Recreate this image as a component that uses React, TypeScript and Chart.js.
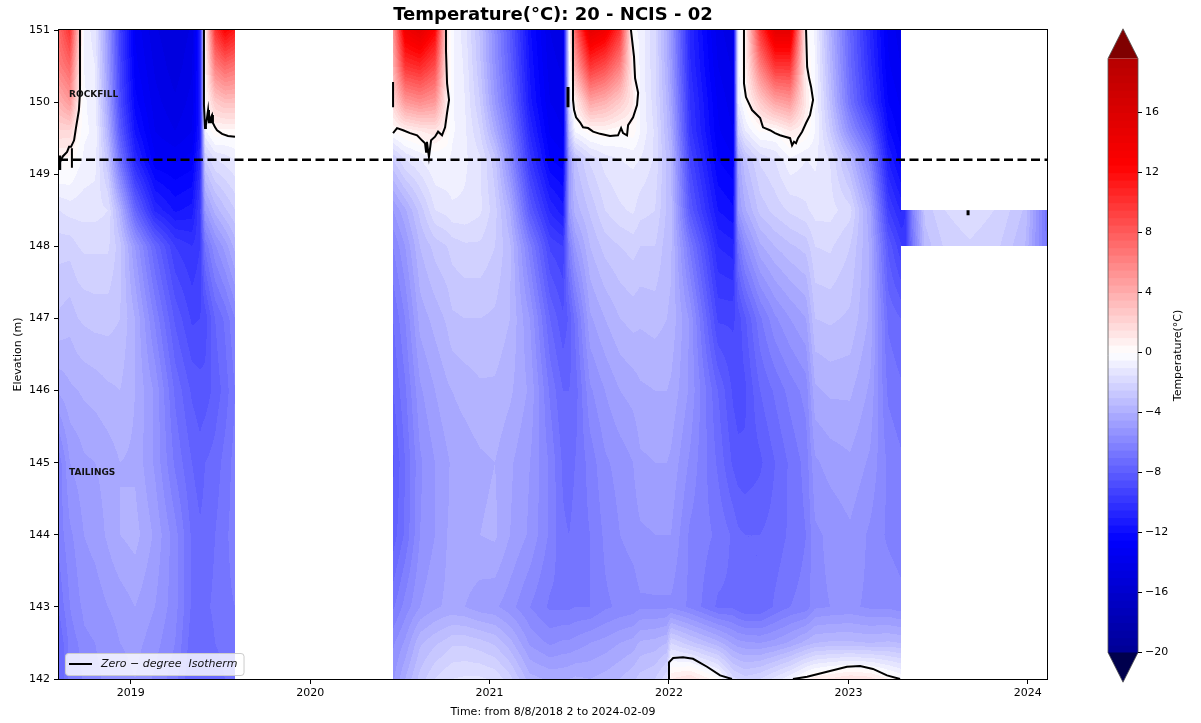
import React, { useEffect, useRef } from 'react';
import { Chart, registerables } from 'chart.js';

Chart.register(...registerables);

// ---------------- text ----------------
const CHART_TITLE = 'Temperature(°C): 20 - NCIS - 02';
const X_TITLE = 'Time: from 8/8/2018 2 to 2024-02-09';
const Y_TITLE = 'Elevation (m)';
const CB_TITLE = 'Temperature(°C)';
const LEGEND_LABEL = 'Zero \u2212 degree  Isotherm';
const ROCKFILL_TEXT = 'ROCKFILL';
const TAILINGS_TEXT = 'TAILINGS';

// ---------------- axes ----------------
const X_MIN = 2018.6;
const X_MAX = 2024.107;
const Y_MIN = 142;
const Y_MAX = 151;
const YEAR_TICKS = [2019, 2020, 2021, 2022, 2023, 2024];
const ELEVATION_TICKS = [142, 143, 144, 145, 146, 147, 148, 149, 150, 151];
const COLORBAR_TICKS = [-20, -16, -12, -8, -4, 0, 4, 8, 12, 16];
const COLORBAR_MIN = -20;
const COLORBAR_MAX = 19.6;
const NORM_MIN = -25;
const NORM_MAX = 25;
const LEVEL_STEP = 0.5;
const COLORBAR_AXIS_MIN = -21.767;
const COLORBAR_AXIS_MAX = 21.5;
const ROCKFILL_BASE = 149.2;
const ROCKFILL_LABEL_AT = [2018.656, 150.1];
const TAILINGS_LABEL_AT = [2018.656, 144.86];

// ---------------- temperature field (°C) ----------------
// sensor elevations (m), top to bottom
const sensorElevations = [151, 150.5, 150, 149.6, 149.2, 148.5, 148, 147, 146, 145, 144, 143, 142.5, 142];
const stripElevations = [148.5, 148];

// period 1: Aug 2018 - Jul 2019 (decimal years)
const timesA = [2018.6, 2018.661, 2018.706, 2018.739, 2018.801, 2018.873, 2018.94, 2019.024, 2019.135, 2019.247, 2019.341, 2019.386, 2019.414, 2019.47, 2019.525, 2019.581];
const tempsA = [
  [7.5, 6.3, 3.8, 1.9, 0.4, -1.5, -2.3, -3.1, -4.4, -6.3, -6.3, -6.9, -7.5, -7.5],
  [10, 7.5, 5, 1.9, 0.3, -1.3, -2.3, -3.3, -4.1, -5, -5.6, -6, -6.3, -6.3],
  [3.8, 2.5, 1.3, 0.5, -0.3, -1.3, -2, -3, -4, -4.8, -5.3, -5.6, -6, -6.3],
  [-0.6, -0.5, -0.4, -0.4, -0.6, -1.3, -1.9, -2.9, -3.9, -4.6, -5, -5.4, -5.6, -5.9],
  [-1.3, -1, -0.8, -0.6, -0.8, -1.3, -1.9, -2.8, -3.8, -4.5, -4.8, -5.3, -5.5, -5.6],
  [-5, -4.8, -4.4, -3.8, -2.9, -1.5, -1.9, -2.8, -3.6, -4.3, -4.4, -5, -5.3, -5.4],
  [-9.4, -9.1, -8.8, -8.1, -6.9, -3.8, -2.8, -3, -3.5, -4, -4, -4.8, -5, -5.3],
  [-13.1, -12.8, -12.3, -11.6, -10.6, -7.5, -5, -4, -4, -4.1, -3.8, -4.5, -4.8, -5],
  [-14.4, -14.1, -13.8, -13.5, -12.9, -10.6, -7.5, -6.1, -5.1, -5.1, -4.6, -5, -5.3, -5.6],
  [-15, -14.8, -14.4, -14, -13.1, -11.6, -9.5, -8.1, -7.1, -6.6, -5.8, -5.8, -6, -6.3],
  [-14.4, -14.1, -13.8, -13.5, -12.8, -11.3, -10, -9.1, -8.1, -7.5, -7.1, -7.1, -7.3, -7.5],
  [-11.3, -11.3, -11.3, -11.3, -10.6, -9.4, -9.5, -9, -8.3, -7.8, -7.4, -7.3, -7.3, -7.5],
  [0.6, 0.3, 0.1, -0.6, -2.5, -5, -6.9, -8.8, -8.3, -7.5, -7.3, -7.1, -7.3, -7.5],
  [10, 6.3, 2.5, 0.4, -1.5, -3.8, -5.6, -7.5, -7.8, -7.3, -7, -6.9, -7, -7.3],
  [12.5, 7.5, 3.1, 0.3, -1.3, -3.1, -4.8, -6.9, -7.3, -6.8, -6.6, -6.6, -6.8, -7],
  [11.3, 6.9, 3.1, 0.3, -1, -2.5, -3.8, -6, -6.5, -6.3, -6.3, -6.5, -6.6, -6.9],
];

// period 2: Jun 2020 - Apr 2023
const timesB = [2020.462, 2020.529, 2020.612, 2020.696, 2020.763, 2020.791, 2020.863, 2020.947, 2021.03, 2021.114, 2021.225, 2021.337, 2021.409, 2021.443, 2021.476, 2021.56, 2021.643, 2021.727, 2021.8, 2021.839, 2021.922, 2021.989, 2022.011, 2022.117, 2022.273, 2022.357, 2022.385, 2022.424, 2022.508, 2022.591, 2022.675, 2022.764, 2022.814, 2022.898, 2023.009, 2023.121, 2023.221, 2023.293];
const tempsB = [
  [5, 3.8, 1.9, 0.1, -2.5, -5, -6, -7, -7.5, -8.1, -7.8, -6.6, -5.6, -5.1],
  [13.8, 10, 5, 0.6, -1.5, -4.1, -5, -6, -6.6, -7, -6.9, -5.8, -4.9, -4],
  [15, 10.6, 5.6, 1, -1, -2.8, -3.5, -4.3, -5.1, -5.6, -5.5, -5, -3.6, -2.8],
  [12.5, 8.8, 5, 1.3, -0.5, -1.5, -2.8, -3.8, -4.5, -5, -5, -4.6, -3.1, -2],
  [1.3, 1, 0.8, 0.5, -0.5, -1.3, -2.5, -3.4, -4.1, -4.6, -4.5, -4.4, -2.8, -1.6],
  [-0.4, -0.4, -0.4, -0.4, -0.6, -1.1, -2.3, -3.1, -4, -4.4, -4.4, -4.4, -2.6, -1.5],
  [-1.3, -1.1, -1, -0.9, -0.9, -1.1, -2.1, -3, -3.8, -4.3, -4.1, -4.5, -2.6, -1.4],
  [-3.1, -2.9, -2.5, -2, -1.4, -1.4, -2.1, -3, -3.6, -4.1, -4, -4.8, -2.8, -1.4],
  [-5.6, -5.4, -5, -4.1, -2.8, -2.3, -2.5, -3.1, -3.6, -4, -3.9, -4.9, -3.1, -1.6],
  [-8.1, -7.8, -7.3, -6.5, -5.6, -4, -3.4, -3.5, -3.9, -4.4, -4.5, -5.3, -3.8, -2.3],
  [-11.9, -11.6, -11.3, -10.6, -9.8, -8.1, -6.3, -5, -4.6, -5, -5.1, -6, -5.1, -3.8],
  [-14, -13.8, -13.5, -13.1, -12.5, -10.6, -9.1, -7.5, -6.6, -6.1, -6.1, -6.6, -5.6, -4.1],
  [-14.4, -14.1, -13.8, -13.5, -12.8, -11.3, -9.5, -8.4, -7.5, -7.1, -6.9, -6.6, -5.4, -4.1],
  [-0.6, -0.9, -1.5, -3.1, -5, -5, -6.3, -7.9, -7.5, -7.3, -7, -6.6, -5.4, -4],
  [7.5, 4.4, 0.6, -0.4, -3.1, -3.8, -5, -6.9, -7.3, -7, -6.8, -6.5, -5.3, -3.9],
  [15, 10, 4.4, 0.3, -1.9, -2.9, -3.5, -4.6, -5.6, -6.3, -6.5, -6.5, -5, -4],
  [13.8, 8.8, 3.8, 0.4, -1.3, -2, -2.8, -4, -5, -5.6, -5.9, -6.1, -4.8, -3.8],
  [10, 6.3, 2.5, 0.1, -1, -1.6, -2.5, -3.5, -4.5, -5.3, -5.5, -5.9, -4.5, -3.5],
  [-0.4, 0.6, 1, 0.3, -0.9, -1.4, -2.3, -3.3, -4.3, -5, -5.3, -5.8, -4.3, -3.1],
  [-0.6, -0.6, -0.5, -0.5, -1, -1.8, -2.5, -3.4, -4.1, -4.6, -5.1, -5.6, -3.9, -2.8],
  [-1.9, -1.9, -1.8, -1.6, -1.6, -2, -2.5, -3.3, -4, -4.5, -5, -5.6, -3.8, -2.5],
  [-4.1, -3.9, -3.6, -3.4, -3.1, -3.1, -3.3, -3.5, -4, -4.5, -5, -5.6, -3.5, -1.6],
  [-5, -4.8, -4.4, -4, -3.5, -3.3, -3.4, -3.6, -4.1, -4.6, -5, -5.6, -2, 1],
  [-10.6, -10.4, -10, -9.8, -9.1, -8.1, -6.6, -5.1, -5.1, -5.6, -6.1, -6.1, -2.8, 1.5],
  [-13.8, -13.5, -13.1, -12.9, -12.5, -11.5, -10.5, -9.1, -7.5, -7.1, -6.6, -7.1, -3.8, 0.1],
  [-14.4, -14.1, -13.8, -13.5, -12.9, -11.9, -10.8, -9.1, -8.6, -8.1, -7.1, -7.1, -4.6, -1.8],
  [-0.6, -0.6, -1, -2.3, -4.4, -5, -6.9, -8.8, -8.8, -8.3, -7.4, -7.3, -4.8, -2],
  [0.6, 0.5, 0.1, -1, -3.1, -4.1, -5.6, -8.1, -8.6, -8.4, -7.5, -7.5, -4.9, -2.3],
  [10, 6.3, 2.5, 0.1, -1.9, -2.8, -4.1, -6.6, -7.5, -8.1, -7.5, -7.5, -5, -2],
  [15, 10, 4.4, 0.1, -1.5, -2.3, -3.5, -5.6, -6.9, -7.5, -7.3, -6.9, -4.8, -1.3],
  [15, 10, 5, 1, -0.6, -1.9, -3.1, -5, -6.3, -6.9, -6.9, -6.5, -4.4, -0.6],
  [0.3, 0.6, 1, 0.4, -1, -1.6, -2.8, -4.5, -5.8, -6.3, -6.5, -6.3, -3.8, 0.4],
  [-0.6, -0.5, -0.4, -0.5, -0.9, -1.3, -2, -3, -4.1, -5.1, -5.6, -5.6, -3.5, 0.8],
  [-3.8, -3.5, -3.1, -2.5, -1.5, -1.3, -1.9, -2.9, -3.9, -4.8, -5.4, -5.5, -3.4, 1.1],
  [-7.5, -7.3, -6.9, -5.6, -3.5, -1.8, -2.5, -3.1, -3.9, -4.6, -5.1, -5.4, -3.4, 1.5],
  [-10.6, -10.3, -9.8, -8.1, -6.3, -4.4, -4.1, -4.1, -4.6, -5.1, -5.6, -5.6, -3.5, 1.3],
  [-13.1, -12.9, -12.5, -11.9, -11, -9.4, -8.1, -7.1, -6.6, -6.1, -6.1, -5.6, -3.4, 0.5],
  [-13.8, -13.5, -13.1, -12.8, -12.3, -10.6, -9.4, -7.5, -6.9, -6.4, -6.3, -5.8, -3.5, 0],
];

// period 3: Apr 2023 - Feb 2024 (only the 148.0 - 148.5 m sensors)
const timesC = [2023.293, 2023.316, 2023.355, 2023.427, 2023.539, 2023.678, 2023.845, 2023.985, 2024.04, 2024.107];
const tempsC = [
  [-10.6, -9.4],
  [-10, -9.8],
  [-6.3, -6.9],
  [-2.8, -3.3],
  [-2, -2.4],
  [-1.6, -2.1],
  [-2.1, -2.5],
  [-3.1, -3.5],
  [-4.8, -5],
  [-6.9, -6.6],
];

// ---------------- zero-degree isotherm traces [year, elevation] ----------------
const iso2018 = [[2018.717, 151.0], [2018.717, 150.13], [2018.711, 149.89], [2018.695, 149.65], [2018.684, 149.47], [2018.667, 149.38], [2018.656, 149.38], [2018.645, 149.31], [2018.622, 149.25], [2018.611, 149.2], [2018.6, 149.13]];
const iso2018Spike = [[2018.672, 149.36], [2018.672, 149.09]];
const iso2018Edge = [[2018.604, 149.26], [2018.604, 149.06]];
const iso2019 = [[2019.408, 151], [2019.408, 149.96], [2019.414, 149.64], [2019.419, 149.68], [2019.425, 149.78], [2019.431, 149.89], [2019.436, 149.72], [2019.442, 149.72], [2019.447, 149.79], [2019.453, 149.82], [2019.458, 149.71], [2019.47, 149.65], [2019.481, 149.61], [2019.509, 149.56], [2019.542, 149.53], [2019.581, 149.52]];
const iso2020 = [[2020.462, 149.57], [2020.484, 149.64], [2020.518, 149.61], [2020.557, 149.57], [2020.596, 149.54], [2020.623, 149.47], [2020.64, 149.43], [2020.646, 149.31], [2020.651, 149.45], [2020.662, 149.24], [2020.674, 149.47], [2020.696, 149.52], [2020.713, 149.59], [2020.735, 149.54], [2020.752, 149.65], [2020.763, 149.85], [2020.774, 150.03], [2020.763, 150.26], [2020.757, 150.72], [2020.757, 151.0]];
const iso2020Edge = [[2020.462, 150.28], [2020.462, 149.93]];
const iso2021 = [[2021.465, 151], [2021.465, 150.45], [2021.465, 150.03], [2021.471, 149.89], [2021.482, 149.79], [2021.504, 149.72], [2021.521, 149.65], [2021.549, 149.64], [2021.577, 149.59], [2021.616, 149.56], [2021.671, 149.53], [2021.716, 149.54], [2021.733, 149.64], [2021.744, 149.57], [2021.766, 149.54], [2021.772, 149.68], [2021.8, 149.79], [2021.822, 149.96], [2021.828, 150.13], [2021.811, 150.33], [2021.805, 150.63], [2021.788, 151]];
const iso2021Edge = [[2021.437, 150.21], [2021.437, 149.93]];
const iso2022 = [[2022.418, 151], [2022.418, 150.26], [2022.429, 150.07], [2022.463, 149.89], [2022.508, 149.78], [2022.524, 149.65], [2022.563, 149.61], [2022.591, 149.57], [2022.619, 149.54], [2022.647, 149.52], [2022.675, 149.5], [2022.686, 149.4], [2022.697, 149.45], [2022.708, 149.43], [2022.719, 149.5], [2022.742, 149.59], [2022.764, 149.71], [2022.786, 149.82], [2022.803, 150.03], [2022.792, 150.21], [2022.781, 150.33], [2022.77, 150.49], [2022.764, 151]];
const isoBottom2022 = [[2022.0, 142.0], [2022.0, 142.23], [2022.023, 142.29], [2022.078, 142.3], [2022.134, 142.28], [2022.212, 142.17], [2022.285, 142.05], [2022.351, 142.0]];
const isoBottom2023 = [[2022.691, 142.0], [2022.77, 142.03], [2022.881, 142.1], [2022.992, 142.17], [2023.065, 142.18], [2023.137, 142.14], [2023.215, 142.05], [2023.288, 142.0]];
const isoStrip2023 = [[2023.667, 148.5], [2023.667, 148.43]];

// ---------------- colour map (matplotlib "seismic") ----------------
const SEISMIC = [[0, 0, 0.3], [0, 0, 1], [1, 1, 1], [1, 0, 0], [0.5, 0, 0]];
const OVER_COLOR = [128, 0, 0];
const UNDER_COLOR = [0, 0, 77];

function seismic(f: number): number[] {
  const p = Math.max(0, Math.min(1, f)) * 4;
  const i = Math.min(3, Math.floor(p));
  const u = p - i;
  const a = SEISMIC[i];
  const b = SEISMIC[i + 1];
  return [0, 1, 2].map((k) => Math.round(255 * (a[k] + (b[k] - a[k]) * u)));
}

function levelColor(v: number): number[] {
  if (v >= COLORBAR_MAX) return OVER_COLOR;
  if (v < COLORBAR_MIN) return UNDER_COLOR;
  const k = Math.floor((v - COLORBAR_MIN) / LEVEL_STEP);
  const mid = COLORBAR_MIN + (k + 0.5) * LEVEL_STEP;
  return seismic((mid - NORM_MIN) / (NORM_MAX - NORM_MIN));
}

type Segment = { times: number[]; elevs: number[]; temps: number[][] };
const segments: Segment[] = [
  { times: timesA, elevs: sensorElevations, temps: tempsA },
  { times: timesB, elevs: sensorElevations, temps: tempsB },
  { times: timesC, elevs: stripElevations, temps: tempsC },
];

function locate(arr: number[], v: number, desc: boolean): [number, number] | null {
  const n = arr.length;
  if (!desc) {
    if (v < arr[0] || v > arr[n - 1]) return null;
    for (let i = 0; i < n - 1; i++) if (v <= arr[i + 1]) return [i, (v - arr[i]) / (arr[i + 1] - arr[i])];
  } else {
    if (v > arr[0] || v < arr[n - 1]) return null;
    for (let i = 0; i < n - 1; i++) if (v >= arr[i + 1]) return [i, (arr[i] - v) / (arr[i] - arr[i + 1])];
  }
  return null;
}

const FONT = '"DejaVu Sans", "Liberation Sans", sans-serif';

const backgroundPlugin = {
  id: 'bg',
  beforeDraw(chart: any) {
    const { ctx, width, height } = chart;
    ctx.save();
    ctx.fillStyle = '#ffffff';
    ctx.fillRect(0, 0, width, height);
    ctx.restore();
  },
};

const fieldPlugin = {
  id: 'field',
  beforeDatasetsDraw(chart: any) {
    const { ctx, chartArea: a, scales } = chart;
    const xs = scales.x;
    const ys = scales.y;
    const left = Math.round(a.left);
    const top = Math.round(a.top);
    const w = Math.round(a.right) - left;
    const h = Math.round(a.bottom) - top;
    const off = document.createElement('canvas');
    off.width = w;
    off.height = h;
    const octx = off.getContext('2d')!;
    const img = octx.createImageData(w, h);
    const rowInfo = segments.map((seg) => {
      const arr: ([number, number] | null)[] = [];
      for (let py = 0; py < h; py++) arr.push(locate(seg.elevs, ys.getValueForPixel(top + py + 0.5), true));
      return arr;
    });
    for (let px = 0; px < w; px++) {
      const t = xs.getValueForPixel(left + px + 0.5);
      let si = -1;
      let col: [number, number] | null = null;
      for (let s = 0; s < segments.length; s++) {
        const c = locate(segments[s].times, t, false);
        if (c) { si = s; col = c; break; }
      }
      if (si < 0 || !col) continue;
      const seg = segments[si];
      const [i, fx] = col;
      const p0 = seg.temps[i];
      const p1 = seg.temps[i + 1];
      for (let py = 0; py < h; py++) {
        const r = rowInfo[si][py];
        if (!r) continue;
        const [j, fy] = r;
        const v = (1 - fx) * (1 - fy) * p0[j] + fx * (1 - fy) * p1[j] + (1 - fx) * fy * p0[j + 1] + fx * fy * p1[j + 1];
        const c = levelColor(v);
        const o = (py * w + px) * 4;
        img.data[o] = c[0];
        img.data[o + 1] = c[1];
        img.data[o + 2] = c[2];
        img.data[o + 3] = 255;
      }
    }
    octx.putImageData(img, 0, 0);
    ctx.drawImage(off, left, top);
  },
};

const overlayPlugin = {
  id: 'overlay',
  afterDatasetsDraw(chart: any) {
    const { ctx, chartArea: a, scales } = chart;
    const xs = scales.x;
    const ys = scales.y;
    const cb = scales.cb;
    ctx.save();
    // frame
    ctx.strokeStyle = '#000';
    ctx.lineWidth = 1;
    ctx.strokeRect(Math.round(a.left) - 0.5, Math.round(a.top) - 0.5, Math.round(a.right - a.left) + 1, Math.round(a.bottom - a.top) + 1);

    // zone labels
    ctx.fillStyle = '#111';
    ctx.font = `bold 9px ${FONT}`;
    ctx.textAlign = 'left';
    ctx.textBaseline = 'middle';
    ctx.fillText(ROCKFILL_TEXT, xs.getPixelForValue(ROCKFILL_LABEL_AT[0]), ys.getPixelForValue(ROCKFILL_LABEL_AT[1]));
    ctx.fillText(TAILINGS_TEXT, xs.getPixelForValue(TAILINGS_LABEL_AT[0]), ys.getPixelForValue(TAILINGS_LABEL_AT[1]));

    // legend
    ctx.font = `italic 11px ${FONT}`;
    const bx = a.left + 6;
    const by = a.bottom - 26;
    const textX = a.left + 42;
    const tw = ctx.measureText(LEGEND_LABEL).width;
    const bw = textX + tw + 6 - bx;
    const bh = 22;
    ctx.beginPath();
    ctx.roundRect(bx + 0.5, by + 0.5, bw, bh, 3);
    ctx.fillStyle = 'rgba(255,255,255,0.8)';
    ctx.fill();
    ctx.strokeStyle = '#cccccc';
    ctx.lineWidth = 1;
    ctx.stroke();
    ctx.beginPath();
    ctx.moveTo(a.left + 10, by + 11);
    ctx.lineTo(a.left + 33, by + 11);
    ctx.strokeStyle = '#000';
    ctx.lineWidth = 2;
    ctx.stroke();
    ctx.fillStyle = '#111';
    ctx.textBaseline = 'middle';
    ctx.fillText(LEGEND_LABEL, textX, by + 11);

    // title
    ctx.font = `bold 18px ${FONT}`;
    ctx.textAlign = 'center';
    ctx.fillStyle = '#000';
    ctx.fillText(CHART_TITLE, (a.left + a.right) / 2, 15);

    // colour bar
    const cx0 = a.right + 61;
    const cx1 = a.right + 91;
    const yTop = cb.getPixelForValue(COLORBAR_MAX);
    const yBot = cb.getPixelForValue(COLORBAR_MIN);
    const ext = 0.05 * (yBot - yTop);
    for (let k = 0; ; k++) {
      const lo = COLORBAR_MIN + k * LEVEL_STEP;
      if (lo >= COLORBAR_MAX) break;
      const hi = Math.min(lo + LEVEL_STEP, COLORBAR_MAX);
      const c = levelColor((lo + hi) / 2);
      const y1 = cb.getPixelForValue(hi);
      const y2 = cb.getPixelForValue(lo);
      ctx.fillStyle = `rgb(${c[0]},${c[1]},${c[2]})`;
      ctx.fillRect(cx0, y1, cx1 - cx0, y2 - y1 + 0.6);
    }
    const mid = (cx0 + cx1) / 2;
    ctx.beginPath();
    ctx.moveTo(cx0, yTop);
    ctx.lineTo(mid, yTop - ext);
    ctx.lineTo(cx1, yTop);
    ctx.closePath();
    ctx.fillStyle = `rgb(${OVER_COLOR.join(',')})`;
    ctx.fill();
    ctx.beginPath();
    ctx.moveTo(cx0, yBot);
    ctx.lineTo(mid, yBot + ext);
    ctx.lineTo(cx1, yBot);
    ctx.closePath();
    ctx.fillStyle = `rgb(${UNDER_COLOR.join(',')})`;
    ctx.fill();
    // outline
    ctx.beginPath();
    ctx.moveTo(cx0, yTop);
    ctx.lineTo(mid, yTop - ext);
    ctx.lineTo(cx1, yTop);
    ctx.lineTo(cx1, yBot);
    ctx.lineTo(mid, yBot + ext);
    ctx.lineTo(cx0, yBot);
    ctx.closePath();
    ctx.strokeStyle = '#555';
    ctx.lineWidth = 0.8;
    ctx.stroke();
    // tick marks
    ctx.strokeStyle = '#000';
    ctx.lineWidth = 1;
    COLORBAR_TICKS.forEach((v) => {
      const y = Math.round(cb.getPixelForValue(v)) + 0.5;
      ctx.beginPath();
      ctx.moveTo(cx1, y);
      ctx.lineTo(cx1 + 4, y);
      ctx.stroke();
    });
    // colour bar title
    ctx.save();
    ctx.translate(a.right + 131, (yTop + yBot) / 2);
    ctx.rotate(-Math.PI / 2);
    ctx.font = `11px ${FONT}`;
    ctx.fillStyle = '#000';
    ctx.textAlign = 'center';
    ctx.textBaseline = 'middle';
    ctx.fillText(CB_TITLE, 0, 0);
    ctx.restore();
    ctx.restore();
  },
};

function isoDataset(points: number[][], width = 2) {
  return {
    data: points.map(([x, y]) => ({ x, y })),
    borderColor: '#000',
    backgroundColor: '#000',
    borderWidth: width,
    pointRadius: 0,
    showLine: true,
    tension: 0,
    order: 1,
  };
}

const minusLabel = (v: number) => (v < 0 ? '\u2212' + Math.abs(v) : String(v));

const noPadding = (s: any) => {
  s.paddingTop = 0;
  s.paddingBottom = 0;
  s.paddingLeft = 0;
  s.paddingRight = 0;
};

export default function App() {
  const ref = useRef<HTMLCanvasElement>(null);
  useEffect(() => {
    Chart.defaults.font.family = FONT;
    Chart.defaults.font.size = 11;
    Chart.defaults.color = '#000';
    const chart = new Chart(ref.current!, {
      type: 'scatter',
      data: {
        datasets: [
          {
            data: [{ x: X_MIN, y: ROCKFILL_BASE }, { x: X_MAX, y: ROCKFILL_BASE }],
            borderColor: '#000',
            borderWidth: 2.5,
            borderDash: [9, 4.5],
            pointRadius: 0,
            showLine: true,
            order: 0,
          },
          isoDataset(iso2018),
          isoDataset(iso2018Spike),
          isoDataset(iso2018Edge, 3),
          isoDataset(iso2019),
          isoDataset(iso2020),
          isoDataset(iso2020Edge),
          isoDataset(iso2021),
          isoDataset(iso2021Edge, 3),
          isoDataset(iso2022),
          isoDataset(isoBottom2022),
          isoDataset(isoBottom2023),
          isoDataset(isoStrip2023, 3),
        ] as any,
      },
      options: {
        responsive: false,
        animation: false,
        events: [],
        layout: { padding: { top: 30, left: 0, right: 0, bottom: 0 } },
        plugins: {
          legend: { display: false },
          tooltip: { enabled: false },
          title: { display: false },
        },
        scales: {
          x: {
            type: 'linear',
            position: 'bottom',
            min: X_MIN,
            max: X_MAX,
            afterBuildTicks: (s: any) => { s.ticks = YEAR_TICKS.map((v) => ({ value: v })); },
            afterFit: (s: any) => { s.height = 44; noPadding(s); },
            ticks: { callback: (v: any) => String(v), padding: 3, maxRotation: 0, autoSkip: false, color: '#000', font: { size: 11 } },
            grid: { display: true, drawOnChartArea: false, drawTicks: true, tickLength: 5, color: '#000', lineWidth: 1 },
            border: { display: false },
            title: { display: true, text: X_TITLE, color: '#000', font: { size: 11 }, padding: { top: 0, bottom: 4.4 } },
          },
          y: {
            type: 'linear',
            position: 'left',
            min: Y_MIN,
            max: Y_MAX,
            afterBuildTicks: (s: any) => { s.ticks = ELEVATION_TICKS.map((v) => ({ value: v })); },
            afterFit: (s: any) => { s.width = 59; noPadding(s); },
            ticks: { callback: (v: any) => String(v), padding: 4, autoSkip: false, color: '#000', font: { size: 11 } },
            grid: { display: true, drawOnChartArea: false, drawTicks: true, tickLength: 5, color: '#000', lineWidth: 1 },
            border: { display: false },
            title: { display: true, text: Y_TITLE, color: '#000', font: { size: 11 }, padding: { top: 11.4, bottom: 0 } },
          },
          cb: {
            type: 'linear',
            position: 'right',
            min: COLORBAR_AXIS_MIN,
            max: COLORBAR_AXIS_MAX,
            afterBuildTicks: (s: any) => { s.ticks = COLORBAR_TICKS.map((v) => ({ value: v })); },
            afterFit: (s: any) => { s.width = 154; noPadding(s); },
            ticks: { callback: (v: any) => minusLabel(v), padding: 98, autoSkip: false, color: '#000', font: { size: 11 } },
            grid: { display: false, drawOnChartArea: false, drawTicks: false },
            border: { display: false },
          },
        },
      } as any,
      plugins: [backgroundPlugin, fieldPlugin, overlayPlugin],
    });
    return () => chart.destroy();
  }, []);
  return (
    <div style={{ position: 'fixed', left: 0, top: 0, width: 1201, height: 723, background: '#fff' }}>
      <canvas ref={ref} width={1201} height={723} style={{ display: 'block', width: 1201, height: 723 }} />
    </div>
  );
}
